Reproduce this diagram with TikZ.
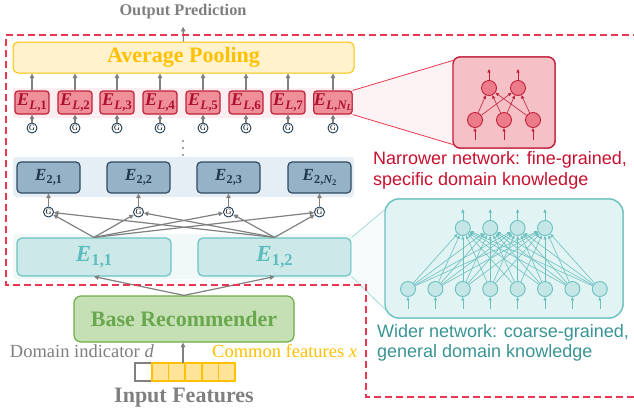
\documentclass[tikz,border=0pt]{standalone}
\usepackage{fontspec}
\setmainfont{Liberation Serif}
\newfontfamily\arialf{Liberation Sans}
\usetikzlibrary{arrows.meta}
\newcommand\subE[1]{{\bfseries\itshape E}\kern0.3pt\raisebox{-0.4ex}{\scalebox{0.72}{\bfseries #1}}}
\newcommand\itl[1]{{\itshape #1}}
\definecolor{dashred}{HTML}{E8384F}
\definecolor{arrgray}{HTML}{808080}
\definecolor{txtgray}{HTML}{7F7F7F}
\definecolor{avgfill}{HTML}{FFF2CC}
\definecolor{avgline}{HTML}{FFC000}
\definecolor{elfill}{HTML}{EF8F9A}
\definecolor{elline}{HTML}{C0203A}
\definecolor{eltxt}{HTML}{B01030}
\definecolor{pinkstrip}{HTML}{FCEEF0}
\definecolor{etwofill}{HTML}{96B2C7}
\definecolor{etwoline}{HTML}{2E4A62}
\definecolor{etwotxt}{HTML}{22384F}
\definecolor{bluestrip}{HTML}{E6EEF5}
\definecolor{eonefill}{HTML}{CCE8E8}
\definecolor{eoneline}{HTML}{6CC4C4}
\definecolor{eonetxt}{HTML}{5BBDBD}
\definecolor{tealstrip}{HTML}{F0F8F8}
\definecolor{basefill}{HTML}{C5E0B4}
\definecolor{baseline}{HTML}{70AD47}
\definecolor{basetxt}{HTML}{6AA84F}
\definecolor{gline}{HTML}{1F3A52}
\definecolor{rzfill}{HTML}{F5C0C6}
\definecolor{rnodefill}{HTML}{EC7C89}
\definecolor{redtxt}{HTML}{C8102E}
\definecolor{pinkfun}{HTML}{FDF3F4}
\definecolor{tzfill}{HTML}{E2F3F3}
\definecolor{tzline}{HTML}{6BC0C0}
\definecolor{tnodefill}{HTML}{C5E6E6}
\definecolor{tealfun}{HTML}{F5FBFB}
\definecolor{tealfunline}{HTML}{A8DADA}
\definecolor{teltxt}{HTML}{3A9494}
\definecolor{cellfill}{HTML}{FFE399}
\begin{document}
\begin{tikzpicture}[x=1pt,y=-1pt,
  garr/.style={draw=arrgray, line width=1.2pt, -{Triangle[length=4.5pt,width=4.5pt]}},
  dashline/.style={draw=dashred, line width=1.6pt, dash pattern=on 7pt off 4pt},
  avgbox/.style={draw=avgline, fill=avgfill, line width=1pt, rounded corners=5pt, text=avgline, font=\fontsize{22}{24}\selectfont\bfseries},
  elbox/.style={draw=elline, fill=elfill, line width=1.2pt, rounded corners=3pt, minimum width=34pt, minimum height=23pt, inner sep=0pt, text=eltxt, font=\fontsize{18}{18}\selectfont},
  gnode/.style={circle, draw=gline, fill=white, line width=0.9pt, minimum size=10pt, inner sep=0pt, font=\fontsize{8}{8}\selectfont},
  etwo/.style={draw=etwoline, fill=etwofill, line width=1.2pt, rounded corners=4pt, minimum width=63pt, minimum height=31pt, inner sep=0pt, text=etwotxt, font=\fontsize{17}{17}\selectfont},
  eone/.style={draw=eoneline, fill=eonefill, line width=1.2pt, rounded corners=5pt, minimum height=38pt, inner sep=0pt, text=eonetxt, font=\fontsize{23}{23}\selectfont},
  basebox/.style={draw=baseline, fill=basefill, line width=1.2pt, rounded corners=7pt, minimum width=220pt, minimum height=46pt, text=basetxt, font=\fontsize{22}{24}\selectfont\bfseries},
  cello/.style={draw=avgline, fill=cellfill, line width=1.5pt, minimum width=16.6pt, minimum height=18pt, inner sep=0pt},
  cellw/.style={draw=arrgray, fill=white, line width=1.5pt, minimum width=17pt, minimum height=18pt, inner sep=0pt},
  rnode/.style={circle, draw=elline, fill=rnodefill, line width=0.9pt, minimum size=15pt, inner sep=0pt},
  rarr/.style={draw=elline, line width=0.6pt, -{Triangle[length=3.5pt,width=3pt]}},
  tnode/.style={circle, draw=tzline, fill=tnodefill, line width=0.9pt, minimum size=15pt, inner sep=0pt},
  tarr/.style={draw=tzline, line width=0.6pt, -{Triangle[length=3.5pt,width=3pt]}},
  sanstxt/.style={font=\arialf\fontsize{18}{21}\selectfont, inner sep=0pt, anchor=base west}
]
\useasboundingbox (0,0) rectangle (634,416);

% strips
\fill[pinkstrip] (13,88) rectangle (354,118);
\fill[bluestrip, rounded corners=3pt] (13,157) rectangle (354,197);
\fill[tealstrip, rounded corners=3pt] (13,234) rectangle (354,279);

% top
\node[avgbox, minimum width=341pt, minimum height=31pt] (avg) at (183.5,57.5) {Average Pooling};
\node[text=txtgray, font=\fontsize{16.3}{18}\selectfont\bfseries] (out) at (183,12) {Output Prediction};
\draw[garr, shorten >=4pt] (avg.north) -- (out.south);

% L layer
\foreach \x/\lab [count=\i] in {32/1,75/2,117/3,160/4,203/5,246/6,288/7,333/{\itl{N}\raisebox{-0.3ex}{\scalebox{0.7}{\itl{L}}}}} {
  \node[elbox] (eL\i) at (\x,102.5) {\subE{\itl{L},\lab}};
  \node[gnode] (gL\i) at (\x,128) {G};
  \draw[garr] (gL\i) -- (eL\i);
  \draw[garr] (eL\i) -- (eL\i |- avg.south);
}

% dots
\foreach \y in {141,148,155} \fill[arrgray] (183,\y) circle (1.2pt);

% layer 2
\foreach \x/\lab [count=\i] in {48.5/1,138.5/2,228.5/3,319.5/{\itl{N}\raisebox{-0.3ex}{\scalebox{0.7}{2}}}} {
  \node[etwo] (e2\i) at (\x,177.5) {\subE{2,\lab}};
  \node[gnode] (g2\i) at (\x,212) {G};
  \draw[garr] (g2\i) -- (e2\i);
}

% funnels and zoom boxes
\node[draw=elline, fill=rzfill, line width=1.3pt, rounded corners=7pt, minimum width=102pt, minimum height=91pt] (rz) at (504,102.5) {};
\coordinate (rzt) at ([shift={(1,4)}]rz.north west);
\coordinate (rzb) at ([shift={(1,-4)}]rz.south west);
\node[draw=tzline, fill=tzfill, line width=1.3pt, rounded corners=14pt, minimum width=238pt, minimum height=119pt] (tz) at (504,258.5) {};
\coordinate (tzt) at ([shift={(3,9)}]tz.north west);
\coordinate (tzb) at ([shift={(1,-9)}]tz.south west);

% layer 1
\node[eone, minimum width=154pt] (e11) at (94,257) {\subE{1,1}};
\node[eone, minimum width=153pt] (e12) at (274.5,257) {\subE{1,2}};
\foreach \i in {1,...,4} {
  \draw[garr] (e11.north) -- (g2\i);
  \draw[garr] (e12.north) -- (g2\i);
}

\fill[pinkfun] (eL8.north east) -- (rzt) -- (rzb) -- (eL8.south east) -- cycle;
\draw[dashred, line width=0.8pt] (eL8.north east) -- (rzt);
\draw[dashred, line width=0.8pt] (eL8.south east) -- (rzb);
\fill[tealfun] (e12.north east) -- (tzt) -- (tzb) -- (e12.south east) -- cycle;
\draw[tealfunline, line width=0.8pt] (e12.north east) -- (tzt);
\draw[tealfunline, line width=0.8pt] (e12.south east) -- (tzb);

% redraw boxes above funnels
\node[draw=elline, fill=rzfill, line width=1.3pt, rounded corners=7pt, minimum width=102pt, minimum height=91pt] at (504,102.5) {};
\node[draw=tzline, fill=tzfill, line width=1.3pt, rounded corners=14pt, minimum width=238pt, minimum height=119pt] at (504,258.5) {};

% red network
\foreach \x [count=\i] in {475,504,533} {
  \node[rnode] (rb\i) at (\x,120) {};
  \coordinate (rin\i) at (\x,140);
  \draw[rarr] (rin\i) -- (rb\i);
}
\foreach \x [count=\j] in {489,518} {
  \node[rnode] (rt\j) at (\x,88) {};
  \coordinate (rout\j) at (\x,69);
  \draw[rarr] (rt\j) -- (rout\j);
}
\foreach \i in {1,2,3} \foreach \j in {1,2} \draw[rarr] (rb\i) -- (rt\j);

% teal network
\foreach \k [count=\i] in {0,...,7} {
  \node[tnode] (tb\i) at (408+27.4*\k,289) {};
  \coordinate (tin\i) at (408+27.4*\k,309);
  \draw[tarr] (tin\i) -- (tb\i);
}
\foreach \k [count=\j] in {2,...,5} {
  \node[tnode] (tt\j) at (408+27.4*\k,228) {};
  \coordinate (tout\j) at (408+27.4*\k,209);
  \draw[tarr] (tt\j) -- (tout\j);
}
\foreach \i in {1,...,8} \foreach \j in {1,...,4} \draw[tarr] (tb\i) -- (tt\j);

% texts right
\node[sanstxt, text=redtxt] (n1) at (373,164) {Narrower network: fine-grained,};
\node[sanstxt, text=redtxt] (n2) at (373,185) {specific domain knowledge};
\node[sanstxt, text=teltxt] (w1) at (377,337) {Wider network: coarse-grained,};
\node[sanstxt, text=teltxt] (w2) at (377,357) {general domain knowledge};

% base
\node[basebox] (base) at (184,319) {Base Recommender};
\draw[garr] (base.north) -- (e11.south);
\draw[garr] (base.north) -- (e12.south);

% feature vector
\node[cellw] (c0) at (143.5,372) {};
\foreach \k [count=\i] in {0,...,4} \node[cello] (c\i) at (160.3+16.6*\k,372) {};
\coordinate (vin) at (183,363);
\draw[garr] (vin) -- (base.south -| vin);
\node[anchor=base east, inner sep=0pt, text=txtgray, font=\fontsize{18.5}{20}\selectfont] (dtxt) at (154,357) {Domain indicator \textit{d}};
\node[anchor=base west, inner sep=0pt, text=avgline, font=\fontsize{18.5}{20}\selectfont] (xtxt) at (212,357) {Common features \textit{x}};
\node[text=txtgray, font=\fontsize{22}{24}\selectfont\bfseries] (intxt) at (184,398) {Input Features};

% dashed outline
\draw[dashline] (640,35) -- (6,35) -- (6,285) -- (366,285) -- (366,397) -- (640,397);
\end{tikzpicture}
\end{document}
